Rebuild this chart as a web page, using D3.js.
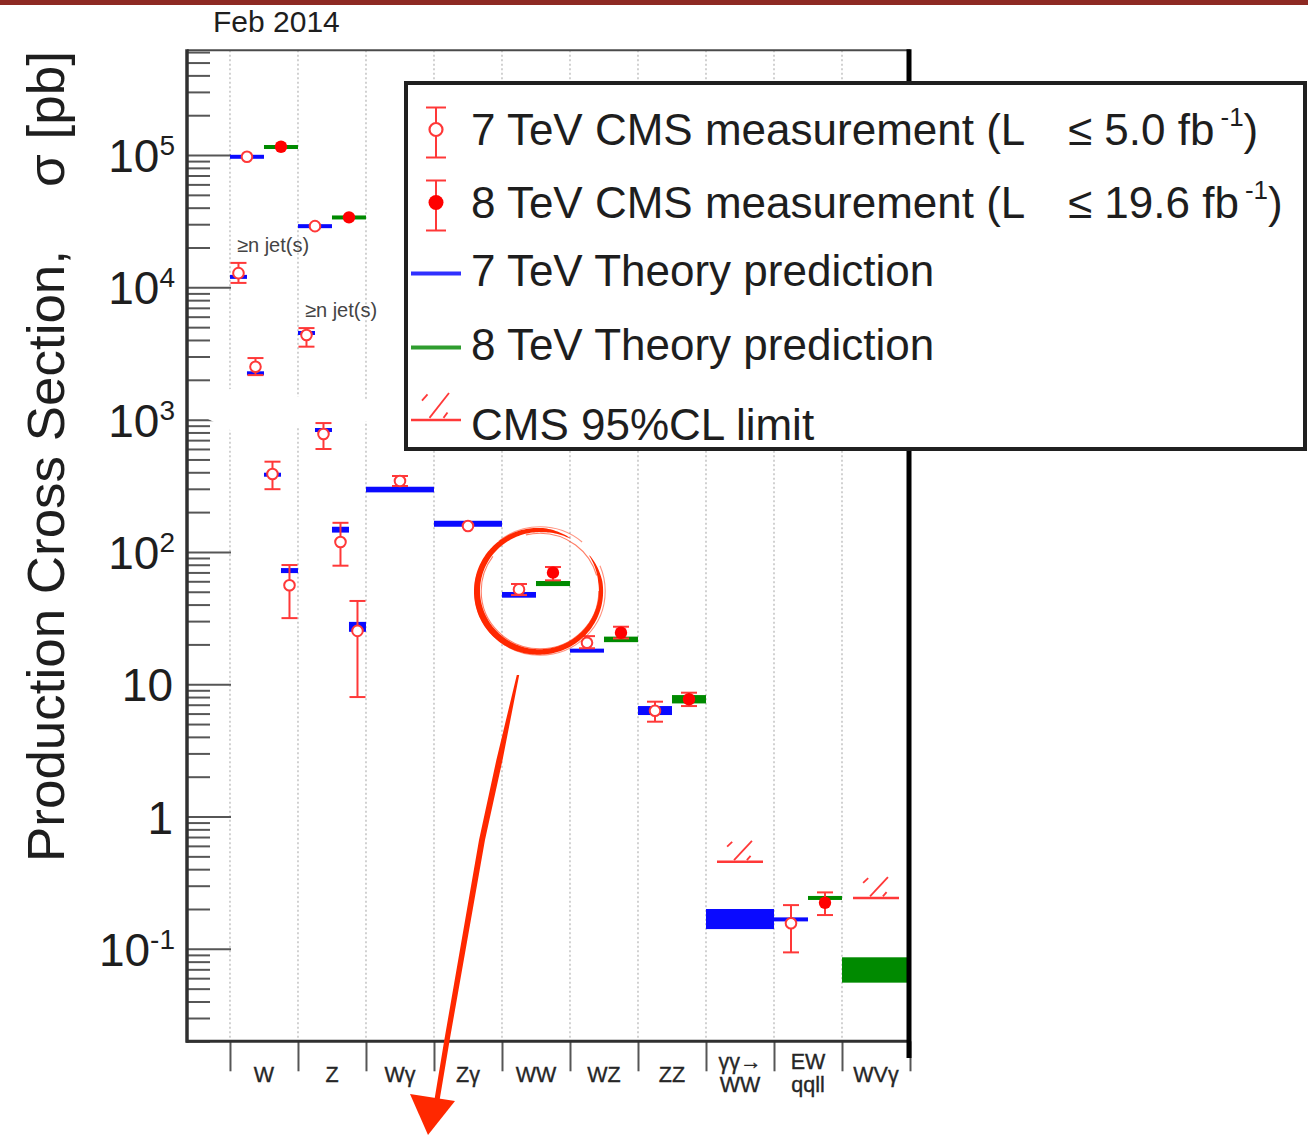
<!DOCTYPE html>
<html>
<head>
<meta charset="utf-8">
<script src="https://cdn.jsdelivr.net/npm/d3@7"></script>
<style>
  html, body { margin: 0; padding: 0; background: #fff; }
  svg { display: block; font-family: "Liberation Sans", Arial, Helvetica, sans-serif; }
</style>
</head>
<body>
<svg id="chart" width="1308" height="1135"></svg>
<script>
// ---------------------------------------------------------------
// Data: production cross sections in pb
// ---------------------------------------------------------------
const categories = ["W", "Z", "Wγ", "Zγ", "WW", "WZ", "ZZ", "γγ→WW", "EW qqll", "WVγ"];
const categoryLabels = [["W"], ["Z"], ["Wγ"], ["Zγ"], ["WW"], ["WZ"], ["ZZ"], ["γγ→", "WW"], ["EW", "qqll"], ["WVγ"]];
const yTickExponents = [-1, 0, 1, 2, 3, 4, 5];

// [process, jet multiplicity (0 = inclusive), sigma, sigma low, sigma high]
const meas7TeV = [
  ["W", 0, 9.7e4, 9.55e4, 9.85e4],
  ["W", 1, 1.28e4, 1.08e4, 1.53e4],
  ["W", 2, 2510, 2170, 2920],
  ["W", 3, 388, 298, 481],
  ["W", 4, 56, 31.6, 79.6],
  ["Z", 0, 2.9e4, 2.86e4, 2.94e4],
  ["Z", 1, 4360, 3560, 4920],
  ["Z", 2, 778, 600, 942],
  ["Z", 3, 119, 78.7, 166],
  ["Z", 4, 25.3, 8.0, 42.6],
  ["Wγ", 0, 344, 315, 375],
  ["Zγ", 0, 157, 153, 161],
  ["WW", 0, 52.1, 47.2, 57.2],
  ["WZ", 0, 20.6, 18.7, 23.1],
  ["ZZ", 0, 6.31, 5.21, 7.38],
  ["EW qqll", 0, 0.156, 0.094, 0.214]
];
const meas8TeV = [
  ["W", 0, 1.155e5, 1.14e5, 1.17e5],
  ["Z", 0, 3.38e4, 3.33e4, 3.43e4],
  ["WW", 0, 69.7, 61, 76.9],
  ["WZ", 0, 24.5, 22.2, 27.2],
  ["ZZ", 0, 7.7, 6.84, 8.63],
  ["EW qqll", 0, 0.223, 0.18, 0.267]
];

// [process, jet multiplicity, prediction low, prediction high]
const theory7TeV = [
  ["W", 0, 9.6e4, 9.8e4],
  ["W", 1, 1.17e4, 1.23e4],
  ["W", 2, 2200, 2280],
  ["W", 3, 375, 392],
  ["W", 4, 69.2, 75.5],
  ["Z", 0, 2.85e4, 2.95e4],
  ["Z", 1, 4400, 4640],
  ["Z", 2, 810, 860],
  ["Z", 3, 140, 155],
  ["Z", 4, 24.9, 29.6],
  ["Wγ", 0, 282, 311],
  ["Zγ", 0, 155, 172],
  ["WW", 0, 45.1, 49.8],
  ["WZ", 0, 17.4, 18.5],
  ["ZZ", 0, 5.85, 6.84],
  ["γγ→WW", 0, 0.141, 0.2],
  ["EW qqll", 0, 0.162, 0.172]
];
const theory8TeV = [
  ["W", 0, 1.13e5, 1.17e5],
  ["Z", 0, 3.3e4, 3.45e4],
  ["WW", 0, 55.2, 60.3],
  ["WZ", 0, 20.8, 22.9],
  ["ZZ", 0, 7.16, 8.28],
  ["EW qqll", 0, 0.235, 0.25],
  ["WVγ", 0, 0.0555, 0.0863]
];

// [process, 95% CL upper limit]
const limits95 = [
  ["γγ→WW", 0.455],
  ["WVγ", 0.242]
];

const jetLabelText = "≥n jet(s)";
const jetLabelProcesses = ["W", "Z"];
const legendLabels = ["7 TeV CMS measurement", "8 TeV CMS measurement",
                      "7 TeV Theory prediction", "8 TeV Theory prediction", "CMS 95%CL limit"];
const lumiLabels = ["5.0", "19.6"];
const dateLabel = "Feb 2014";
const yTitleMain = "Production Cross Section,";
const yTitleUnit = "σ [pb]";

// ---------------------------------------------------------------
// Styles
// ---------------------------------------------------------------
const RED = "#ff3838", RED_FILL = "#ff0000", BLUE = "#0a0aff", GREEN = "#008a00";
const INK = "#1e1e1e", AXIS = "#565656", MARK = "#ff2800";

const svg = d3.select("#chart");
svg.append("rect").attr("width", 1308).attr("height", 1135).attr("fill", "#fff");
svg.append("rect").attr("x", 0).attr("y", 0).attr("width", 1308).attr("height", 5).attr("fill", "#8e2a23");

const x = d3.scaleLinear().domain([-0.632, categories.length]).range([187, 910]);
const y = d3.scaleLog().domain([0.02, 6.2e5]).range([1041.3, 50.2]);
const [yBottom, yTop] = y.range();
const catIndex = new Map(categories.map((c, i) => [c, i]));

svg.append("text").attr("x", 213).attr("y", 32).attr("font-size", 30).attr("fill", INK).text(dateLabel);

// dotted separators between processes
svg.append("g").selectAll("line").data(d3.range(0, categories.length)).join("line")
  .attr("x1", d => x(d)).attr("x2", d => x(d))
  .attr("y1", yTop).attr("y2", yBottom)
  .attr("stroke", "#c6c6c6").attr("stroke-width", 1.6).attr("stroke-dasharray", "2,2.5");

// y ticks: long at decades, short in between
const [d0, d1] = y.domain();
const allTicks = y.ticks().filter(v => v >= d0 * 0.999 && v <= d1);
const isDecade = v => Math.abs(Math.log10(v) - Math.round(Math.log10(v))) < 1e-9;
function styleAxis(g) {
  g.select(".domain").remove();
  g.selectAll(".tick line").attr("stroke", AXIS).attr("stroke-width", 2);
  g.selectAll(".tick text").remove();
}
svg.append("g").attr("transform", "translate(187,0)")
  .call(d3.axisLeft(y).tickValues(allTicks.filter(v => !isDecade(v))).tickSize(-23).tickSizeOuter(0).tickFormat(""))
  .call(styleAxis);
svg.append("g").attr("transform", "translate(187,0)")
  .call(d3.axisLeft(y).tickValues(allTicks.filter(isDecade)).tickSize(-44).tickSizeOuter(0).tickFormat(""))
  .call(styleAxis);

// x ticks at the process boundaries, pointing down
svg.append("g").attr("transform", `translate(0,${yBottom})`)
  .call(d3.axisBottom(x).tickValues(d3.range(0, categories.length + 1)).tickSize(30).tickSizeOuter(0).tickFormat(""))
  .call(styleAxis);

// blank strip over the grid just above 10^3
svg.append("polygon")
  .attr("points", "189,401 230,389 298,397 366,399 404,399 404,421 366,421 298,426 232,431 210,420 189,409")
  .attr("fill", "#fff");

// frame
svg.append("line").attr("x1", 187).attr("x2", 910).attr("y1", yTop).attr("y2", yTop).attr("stroke", "#4a4a4a").attr("stroke-width", 2);
svg.append("line").attr("x1", 187).attr("x2", 187).attr("y1", yTop - 1).attr("y2", yBottom + 1.5).attr("stroke", "#303030").attr("stroke-width", 3.5);
svg.append("line").attr("x1", 186).attr("x2", 910).attr("y1", yBottom).attr("y2", yBottom).attr("stroke", "#303030").attr("stroke-width", 3);

// process names
categoryLabels.forEach((lines, i) => {
  const base = lines.length === 1 ? [1082] : [1069, 1092];
  lines.forEach((t, k) => {
    svg.append("text").attr("x", x(i + 0.5)).attr("y", base[k]).attr("text-anchor", "middle")
      .attr("font-size", 21.5).attr("fill", "#262626")
      .attr("stroke", "#262626").attr("stroke-width", 0.35).text(t);
  });
});

// decade labels
yTickExponents.forEach(e => {
  const t = svg.append("text").attr("x", e > 1 || e < 0 ? 175 : 173).attr("y", y(Math.pow(10, e)) + 17)
    .attr("text-anchor", "end").attr("font-size", 46).attr("fill", INK);
  if (e === 0) t.text("1");
  else if (e === 1) t.text("10");
  else {
    t.append("tspan").text("10");
    t.append("tspan").attr("font-size", 28).attr("dy", -17).text(String(e));
  }
});

// y title (rotated)
const yt = svg.append("g").attr("transform", "translate(64,0) rotate(-90)");
yt.append("text").attr("x", -862).attr("y", 0).attr("font-size", 52).attr("fill", INK)
  .attr("textLength", 612).attr("lengthAdjust", "spacingAndGlyphs").text(yTitleMain);
yt.append("text").attr("x", -187).attr("y", 0).attr("font-size", 52).attr("fill", INK)
  .attr("textLength", 136).attr("lengthAdjust", "spacingAndGlyphs").text(yTitleUnit);

// ---------------------------------------------------------------
// Marks
// ---------------------------------------------------------------
const inclusiveCats = rows => new Set(rows.filter(r => r[1] === 0).map(r => r[0]));
const cats7 = new Set([...inclusiveCats(meas7TeV), ...inclusiveCats(theory7TeV)]);
const cats8 = new Set([...inclusiveCats(meas8TeV), ...inclusiveCats(theory8TeV)]);

// horizontal extent (in process units) of an entry
function span(cat, jets, energy) {
  const i = catIndex.get(cat);
  if (jets > 0) return [i + (jets - 1) / 4, i + jets / 4];
  if (!(cats7.has(cat) && cats8.has(cat))) return [i, i + 1];
  return energy === 7 ? [i, i + 0.5] : [i + 0.5, i + 1];
}

const series = [
  { energy: 7, theory: theory7TeV, meas: meas7TeV, color: BLUE },
  { energy: 8, theory: theory8TeV, meas: meas8TeV, color: GREEN }
];

const gBands = svg.append("g");
series.forEach(s => {
  s.theory.forEach(([cat, jets, lo, hi]) => {
    const [a, b] = span(cat, jets, s.energy);
    let top = y(hi), bot = y(lo);
    if (bot - top < 4) { const m = (top + bot) / 2; top = m - 2; bot = m + 2; }
    gBands.append("rect").attr("x", x(a)).attr("y", top)
      .attr("width", x(b) - x(a)).attr("height", bot - top).attr("fill", s.color);
  });
});

function limitGlyph(g, left, yy, w, h) {
  g.append("line").attr("x1", left).attr("x2", left + w).attr("y1", yy).attr("y2", yy)
    .attr("stroke", RED).attr("stroke-width", 2.4);
  [[0.22, -0.72, 0.33, -0.95], [0.37, -0.08, 0.76, -1.0], [0.65, -0.08, 0.73, -0.28]].forEach(([a, b, c, d]) => {
    g.append("line").attr("x1", left + a * w).attr("y1", yy + b * h).attr("x2", left + c * w).attr("y2", yy + d * h)
      .attr("stroke", RED).attr("stroke-width", 1.8);
  });
}
const gLim = svg.append("g");
limits95.forEach(([cat, v]) => {
  const cx = x(catIndex.get(cat) + 0.5);
  limitGlyph(gLim, cx - 23, y(v), 46, 21);
});

const gErr = svg.append("g"), gMarkers = svg.append("g");
series.forEach(s => {
  s.meas.forEach(([cat, jets, v, lo, hi]) => {
    const [a, b] = span(cat, jets, s.energy);
    const cx = x((a + b) / 2), cy = y(v), yl = y(lo), yh = y(hi);
    gErr.append("line").attr("x1", cx).attr("x2", cx).attr("y1", yh).attr("y2", yl)
      .attr("stroke", RED).attr("stroke-width", 2);
    [yh, yl].forEach(yy => {
      if (Math.abs(yy - cy) > 2.5) {
        gErr.append("line").attr("x1", cx - 8).attr("x2", cx + 8).attr("y1", yy).attr("y2", yy)
          .attr("stroke", RED).attr("stroke-width", 2);
      }
    });
    if (s.energy === 7) {
      gMarkers.append("circle").attr("cx", cx).attr("cy", cy).attr("r", 5.3)
        .attr("fill", "#fff").attr("stroke", RED).attr("stroke-width", 2);
    } else {
      gMarkers.append("circle").attr("cx", cx).attr("cy", cy).attr("r", 6.2).attr("fill", RED_FILL);
    }
  });
});

// jet multiplicity tags
jetLabelProcesses.forEach(cat => {
  const row = meas7TeV.find(r => r[0] === cat && r[1] === 1);
  const [a] = span(cat, 1, 7);
  svg.append("text").attr("x", x(a) + 7).attr("y", y(row[4]) - 11)
    .attr("font-size", 20).attr("fill", "#444").text(jetLabelText);
});

// right frame edge
svg.append("line").attr("x1", 909).attr("x2", 909).attr("y1", yTop - 1).attr("y2", 1058)
  .attr("stroke", "#000").attr("stroke-width", 5);

// ---------------------------------------------------------------
// Legend
// ---------------------------------------------------------------
const lg = svg.append("g");
lg.append("rect").attr("x", 406).attr("y", 83).attr("width", 899).attr("height", 366)
  .attr("fill", "#fff").attr("stroke", "#202020").attr("stroke-width", 4);
const rowBase = [144.5, 217.5, 286, 359.5, 439.5];
const symX = 436, textX = 471, LFS = 44;

legendLabels.forEach((label, k) => {
  const t = lg.append("text").attr("x", textX).attr("y", rowBase[k]).attr("font-size", LFS).attr("fill", INK);
  if (k < 2) {
    t.append("tspan").text(label + " (L");
    t.append("tspan").attr("x", 1068).text("≤ " + lumiLabels[k] + " fb");
    t.append("tspan").attr("dx", 6).attr("dy", -19).attr("font-size", 26).text("-1");
    t.append("tspan").attr("dy", 19).text(")");
  } else {
    t.text(label);
  }
});
[0, 1].forEach(k => {
  const b = rowBase[k], cy = b - 15;
  lg.append("line").attr("x1", symX).attr("x2", symX).attr("y1", b - 37).attr("y2", b + 13).attr("stroke", RED).attr("stroke-width", 2);
  [b - 37, b + 13].forEach(yy => lg.append("line").attr("x1", symX - 10).attr("x2", symX + 10)
    .attr("y1", yy).attr("y2", yy).attr("stroke", RED).attr("stroke-width", 2));
  if (k === 0) lg.append("circle").attr("cx", symX).attr("cy", cy).attr("r", 6.5).attr("fill", "#fff").attr("stroke", RED).attr("stroke-width", 2.2);
  else lg.append("circle").attr("cx", symX).attr("cy", cy).attr("r", 7.5).attr("fill", RED_FILL);
});
lg.append("line").attr("x1", 411).attr("x2", 461).attr("y1", rowBase[2] - 12.5).attr("y2", rowBase[2] - 12.5)
  .attr("stroke", "#3030ff").attr("stroke-width", 4);
lg.append("line").attr("x1", 411).attr("x2", 461).attr("y1", rowBase[3] - 12).attr("y2", rowBase[3] - 12)
  .attr("stroke", "#2f9d2f").attr("stroke-width", 4);
limitGlyph(lg, 411, rowBase[4] - 19.5, 50, 27);

// ---------------------------------------------------------------
// Hand-drawn highlight: ring around WW and an arrow pointing down
// ---------------------------------------------------------------
const ann = svg.append("g");
const ring = { cx: 539, cy: 591, rx: 62, ry: 61 };
const th0 = -0.62, th1 = th0 + 2 * Math.PI - 0.42;
const ringPts = d3.range(0, 1.0001, 0.005).map(f => {
  const th = th0 + f * (th1 - th0);
  const taper = Math.min(1, f / 0.08, (1 - f) / 0.08);
  const w = (3.6 + 1.8 * Math.max(0, -Math.cos(th)) + 1.2 * Math.max(0, Math.sin(th))) * taper + 0.6;
  return { th, w };
});
const outer = ringPts.map(p => [ring.cx + (ring.rx + p.w / 2) * Math.cos(p.th), ring.cy + (ring.ry + p.w / 2) * Math.sin(p.th)]);
const inner = ringPts.map(p => [ring.cx + (ring.rx - p.w / 2) * Math.cos(p.th), ring.cy + (ring.ry - p.w / 2) * Math.sin(p.th)]).reverse();
ann.append("path").attr("d", d3.line()(outer.concat(inner)) + "Z").attr("fill", MARK);
// faint brush strands
[[-3.2, 0.6], [3.2, 0.5]].forEach(([dr, op]) => {
  ann.append("ellipse").attr("cx", ring.cx + 1).attr("cy", ring.cy).attr("rx", ring.rx + dr).attr("ry", ring.ry + dr)
    .attr("fill", "none").attr("stroke", MARK).attr("stroke-width", 1.1).attr("opacity", op)
    .attr("stroke-dasharray", "220,40,90,30");
});

const shaftX = d3.scaleLinear().domain([675, 840, 1040, 1100]).range([518, 482, 447, 437]);
const shaftW = d3.scaleLinear().domain([675, 760, 1100]).range([2.4, 6.2, 5.2]);
const ys = d3.range(675, 1101, 5);
const left = ys.map(v => [shaftX(v) - shaftW(v) / 2, v]);
const right = ys.map(v => [shaftX(v) + shaftW(v) / 2, v]).reverse();
ann.append("path").attr("d", d3.line()(left.concat(right)) + "Z").attr("fill", MARK);
ann.append("path").attr("d", d3.line()([[410, 1094], [455, 1101], [428, 1135]]) + "Z").attr("fill", MARK);
</script>
</body>
</html>
